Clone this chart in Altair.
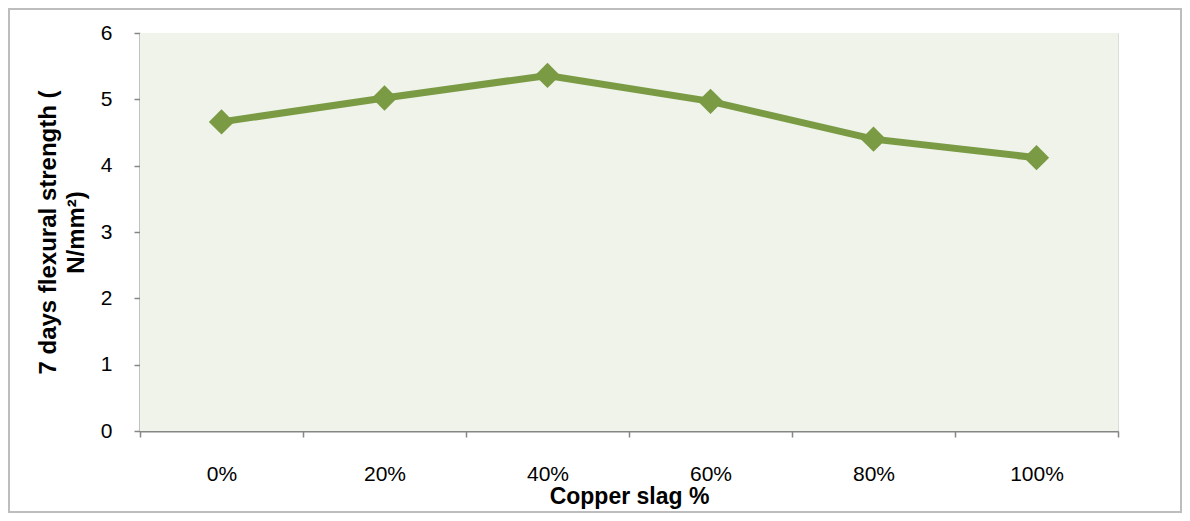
import altair as alt
import pandas as pd

categories = ["0%", "20%", "40%", "60%", "80%", "100%"]
strength = [4.66, 5.02, 5.36, 4.97, 4.40, 4.12]

df = pd.DataFrame({"slag": categories, "strength": strength})

W, H = 978, 398
FONT = "Liberation Sans"

x_enc = alt.X(
    "slag:N",
    sort=categories,
    scale=alt.Scale(paddingInner=0, paddingOuter=0),
    axis=alt.Axis(
        title="Copper slag %",
        titleFontSize=23,
        titleFontWeight="bold",
        titleFont=FONT,
        titleColor="black",
        titleY=72,
        titleBaseline="alphabetic",
        labelAngle=0,
        labelFontSize=21,
        labelFont=FONT,
        labelColor="black",
        labelPadding=26,
        tickBand="extent",
        tickSize=6,
        tickColor="#868686",
        tickWidth=1.5,
        domainColor="#868686",
        domainWidth=2,
        grid=False,
    ),
)

y_enc = alt.Y(
    "strength:Q",
    scale=alt.Scale(domain=[0, 6], nice=False),
    axis=alt.Axis(
        title=["7 days flexural strength (", "N/mm²)"],
        titleFontSize=24,
        titleFontWeight="bold",
        titleFont=FONT,
        titleColor="black",
        titlePadding=12,
        titleLineHeight=28,
        values=[0, 1, 2, 3, 4, 5, 6],
        labelFontSize=21,
        labelFont=FONT,
        labelColor="black",
        labelPadding=22,
        tickSize=6,
        tickColor="#868686",
        tickWidth=1.5,
        domainColor="#868686",
        domainWidth=2,
        grid=False,
    ),
)

base = alt.Chart(df)

bg = base.mark_rect(color="#EFF3EA", clip=False).encode(
    x=alt.value(0), x2=alt.value(W), y=alt.value(0), y2=alt.value(H)
)

frame = base.mark_rect(
    filled=False, fillOpacity=0, stroke="#BDBDBD", strokeWidth=1.5, clip=False
).encode(
    x=alt.value(-131), x2=alt.value(W + 63), y=alt.value(-24), y2=alt.value(H + 81)
)

line = base.mark_line(color="#7A9A44", strokeWidth=7).encode(x=x_enc, y=y_enc)
pts = base.mark_point(shape="diamond", filled=True, size=640, color="#7A9A44", opacity=1).encode(
    x=x_enc, y=y_enc
)

chart = (
    alt.layer(bg, frame, line, pts)
    .properties(
        width=W,
        height=H,
        autosize=alt.AutoSizeParams(type="none"),
        padding={"left": 132, "top": 25, "right": 64, "bottom": 82},
    )
    .configure_view(stroke=None)
    .configure(background="white")
)

chart.save("out.html", embed_options={"renderer": "svg", "actions": False})
